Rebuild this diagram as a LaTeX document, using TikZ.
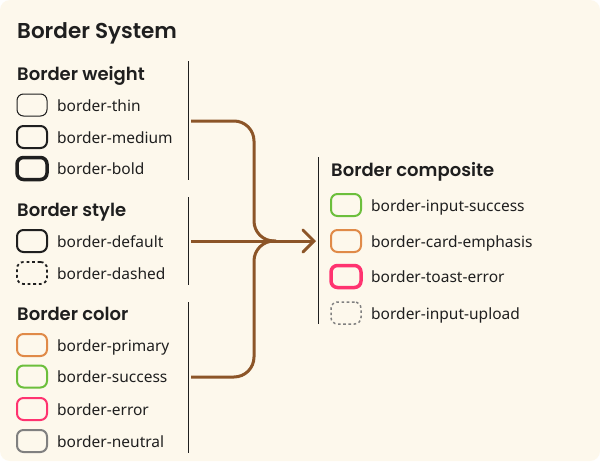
\documentclass[tikz,border=0pt]{standalone}
\usepackage{fontspec}
\setmainfont{Noto Sans}
\newfontfamily\headfont{Poppins SemiBold}
\usetikzlibrary{arrows.meta}
\definecolor{bg}{HTML}{FDF8EC}
\definecolor{ink}{HTML}{1F1F1F}
\definecolor{brownc}{HTML}{8C5528}
\definecolor{orangec}{HTML}{E08A48}
\definecolor{greenc}{HTML}{6CBF3C}
\definecolor{pinkc}{HTML}{FF3370}
\definecolor{grayc}{HTML}{808080}
\tikzset{
  swatch/.style={draw=ink, rounded corners=6.5pt, minimum width=30pt, minimum height=22pt, inner sep=0pt, line width=1pt},
  lbl/.style={anchor=base west, inner sep=0pt, text=ink, font=\fontsize{15.5}{17}\selectfont},
  head/.style={anchor=base west, inner sep=0pt, text=ink, font=\headfont\fontsize{18}{20}\selectfont},
  titlef/.style={anchor=base west, inner sep=0pt, text=ink, font=\headfont\fontsize{21.5}{24}\selectfont},
  divider/.style={draw=ink, line width=1pt},
  flow/.style={draw=brownc, line width=3pt, rounded corners=20pt},
}
\begin{document}
\begin{tikzpicture}[x=1pt,y=-1pt]
\fill[white] (0,0) rectangle (600,461);
\useasboundingbox (0,0) rectangle (600,461);
\fill[bg, rounded corners=10pt] (0,0) rectangle (600,461);

\node[titlef] (title) at (17,38) {Border System};

% weight
\node[head] (hw) at (17,80) {Border weight};
\node[swatch, line width=1pt] (s1) at (32,105) {};
\node[lbl] (t1) at (57,111) {border-thin};
\node[swatch, line width=2pt] (s2) at (32,137) {};
\node[lbl] (t2) at (57,143) {border-medium};
\node[swatch, line width=3.5pt] (s3) at (32,168.5) {};
\node[lbl] (t3) at (57,174.5) {border-bold};
\coordinate (dw1) at (188,61); \coordinate (dw2) at (188,180);
\draw[divider] (dw1) -- (dw2);

% style
\node[head] (hs) at (17,216) {Border style};
\node[swatch, line width=2pt] (s4) at (32,241) {};
\node[lbl] (t4) at (57,247) {border-default};
\node[swatch, line width=1.8pt, dash pattern=on 2.8pt off 2.8pt] (s5) at (32,273) {};
\node[lbl] (t5) at (57,279) {border-dashed};
\coordinate (ds1) at (188,197); \coordinate (ds2) at (188,285);
\draw[divider] (ds1) -- (ds2);

% color
\node[head] (hc) at (17,320) {Border color};
\node[swatch, draw=orangec, line width=2pt] (s6) at (32,345) {};
\node[lbl] (t6) at (57,351) {border-primary};
\node[swatch, draw=greenc, line width=2pt] (s7) at (32,376.5) {};
\node[lbl] (t7) at (57,382.5) {border-success};
\node[swatch, draw=pinkc, line width=2pt] (s8) at (32,409) {};
\node[lbl] (t8) at (57,415) {border-error};
\node[swatch, draw=grayc, line width=2pt] (s9) at (32,441) {};
\node[lbl] (t9) at (57,447) {border-neutral};
\coordinate (dc1) at (188,302); \coordinate (dc2) at (188,453);
\draw[divider] (dc1) -- (dc2);

% composite
\node[head] (hx) at (331,176) {Border composite};
\node[swatch, draw=greenc, line width=2pt] (r1) at (346,205) {};
\node[lbl] (u1) at (371,211) {border-input-success};
\node[swatch, draw=orangec, line width=2pt] (r2) at (346,241) {};
\node[lbl] (u2) at (371,247) {border-card-emphasis};
\node[swatch, draw=pinkc, line width=3.5pt] (r3) at (346,276.5) {};
\node[lbl] (u3) at (371,282.5) {border-toast-error};
\node[swatch, draw=grayc, line width=1.5pt, dash pattern=on 2.6pt off 2.6pt] (r4) at (346,313) {};
\node[lbl] (u4) at (371,319) {border-input-upload};
\coordinate (dr1) at (318,157); \coordinate (dr2) at (318,324);
\draw[divider] (dr1) -- (dr2);

% connectors
\coordinate (wout) at (191,121);
\coordinate (sout) at (191,241);
\coordinate (cout) at (191,377);
\coordinate (bend) at (254,241);
\coordinate (merge) at (276,241);
\coordinate (xin) at (316,241);
\draw[flow] (wout) -| (bend) -- (merge);
\draw[flow] (cout) -| (bend) -- (merge);
\draw[draw=brownc, line width=3pt, -{Straight Barb[length=11pt,width=22pt,line cap=round]}] (sout) -- (xin);
\end{tikzpicture}
\end{document}
